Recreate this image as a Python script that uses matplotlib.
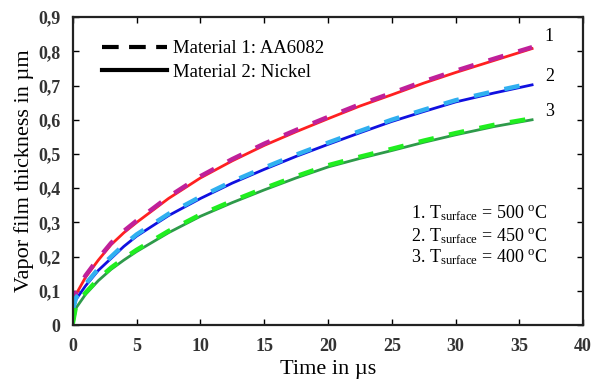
import matplotlib.pyplot as plt

plt.rcParams['font.family'] = ['Liberation Serif', 'DejaVu Serif']
plt.rcParams['mathtext.fontset'] = 'custom'
plt.rcParams['mathtext.rm'] = 'Liberation Serif'
plt.rcParams['mathtext.it'] = 'Liberation Serif:italic'

# time in us
t = [0, 0.25, 1, 2, 3, 4, 5, 7.5, 10, 12.5, 15, 17.5, 20, 22.5, 25, 27.5, 30, 33, 36]

# Material 2: Nickel (solid)
ni_500 = [0.05, 0.09, 0.14, 0.19, 0.235, 0.27, 0.30, 0.37, 0.43, 0.48, 0.525, 0.565,
          0.603, 0.64, 0.673, 0.707, 0.738, 0.773, 0.808]
ni_450 = [0.04, 0.075, 0.115, 0.16, 0.195, 0.23, 0.26, 0.32, 0.37, 0.415, 0.455, 0.493,
          0.528, 0.562, 0.595, 0.624, 0.652, 0.678, 0.702]
ni_400 = [0.0, 0.05, 0.09, 0.13, 0.163, 0.19, 0.215, 0.27, 0.318, 0.358, 0.395, 0.43,
          0.462, 0.487, 0.51, 0.534, 0.556, 0.58, 0.60]

# Material 1: AA6082 (dashed)
al_500 = [0.055, 0.095, 0.145, 0.195, 0.24, 0.275, 0.305, 0.375, 0.435, 0.485, 0.53, 0.57,
          0.608, 0.645, 0.678, 0.712, 0.743, 0.778, 0.812]
al_450 = [0.045, 0.08, 0.12, 0.165, 0.2, 0.235, 0.265, 0.325, 0.375, 0.42, 0.46, 0.498,
          0.533, 0.567, 0.6, 0.629, 0.657, 0.683, 0.707]
al_400 = [0.005, 0.055, 0.095, 0.135, 0.168, 0.195, 0.22, 0.275, 0.323, 0.363, 0.4, 0.435,
          0.467, 0.492, 0.515, 0.539, 0.561, 0.585, 0.604]

curve_labels = ['1', '2', '3']
label_y = [0.842, 0.725, 0.623]
temps = [500, 450, 400]

fig = plt.figure(figsize=(5.92, 3.88), dpi=100)
ax = fig.add_axes([0.123, 0.162, 0.862, 0.794])

ax.plot(t, ni_500, color='#ff2020', lw=2)
ax.plot(t, ni_450, color='#1010e0', lw=2)
ax.plot(t, ni_400, color='#2e9a4a', lw=2)
ax.plot(t, al_500, color='#c0209a', lw=3.2, dashes=(3.5, 3.5))
ax.plot(t, al_450, color='#30b0f0', lw=3.2, dashes=(3.5, 3.5))
ax.plot(t, al_400, color='#20ee20', lw=3.2, dashes=(3.5, 3.5))

# legend handles
ax.plot([], [], color='black', lw=3, dashes=(4, 2.5), label='Material 1: AA6082')
ax.plot([], [], color='black', lw=3, label='Material 2: Nickel')
ax.legend(loc='upper left', frameon=False, fontsize=13.5, handlelength=3.5,
          handletextpad=0.3, labelspacing=0.35, borderaxespad=0.0,
          bbox_to_anchor=(0.042, 0.95))

for lab, yv in zip(curve_labels, label_y):
    ax.text(37.0, yv, lab, fontsize=13, ha='left', va='center')

for i, T in enumerate(temps):
    ax.text(37.2, [0.327, 0.26, 0.199][i],
            '%d. T$_{\\mathrm{surface}}$ = %d $^{\\mathrm{o}}$C' % (i + 1, T),
            fontsize=13, ha='right', va='center')

ax.set_xlim(0, 40)
ax.set_ylim(0, 0.9)
ax.set_xticks(range(0, 41, 5))
yt = [i / 10 for i in range(10)]
ax.set_yticks(yt)
ax.set_yticklabels(['0'] + [('%.1f' % v).replace('.', ',') for v in yt[1:]])
ax.tick_params(direction='in', top=True, right=True, length=4, width=1,
               labelsize=13, labelcolor='#333333')
ax.tick_params(axis='x', pad=9)
ax.tick_params(axis='y', pad=9)
for lab in ax.get_xticklabels() + ax.get_yticklabels():
    lab.set_fontweight('bold')
for s in ax.spines.values():
    s.set_linewidth(1.6)
    s.set_color('#222222')

ax.set_xlabel('Time in µs', fontsize=16, labelpad=4)
ax.set_ylabel('Vapor film thickness in µm', fontsize=16, labelpad=3)

fig.savefig('out.png', dpi=100)
